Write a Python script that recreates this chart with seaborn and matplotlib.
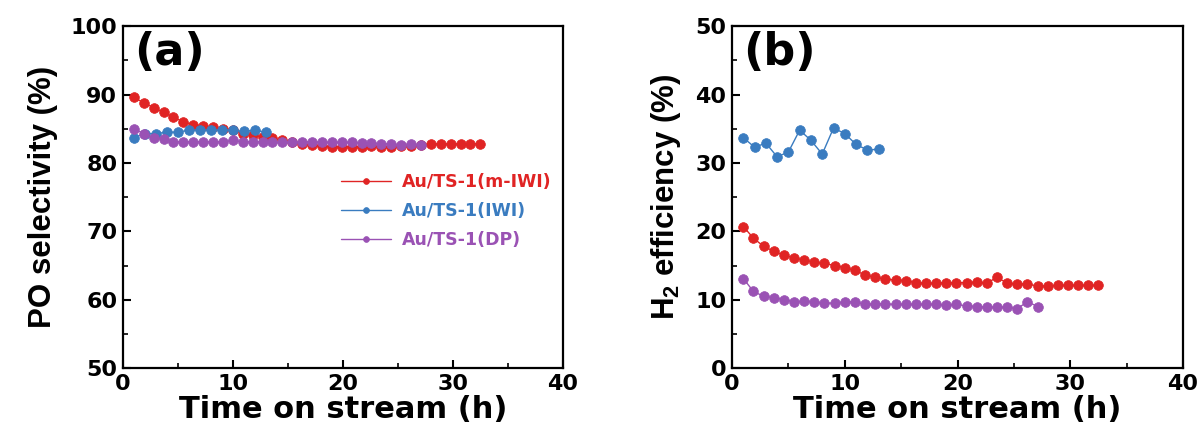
import numpy as np
import pandas as pd
import matplotlib
matplotlib.use("Agg")
import matplotlib.pyplot as plt
import seaborn as sns
from matplotlib.ticker import MultipleLocator

# ---------------- data ----------------
x_mIWI = [1 + 0.9 * i for i in range(36)]
x_IWI = list(range(1, 14))
x_DP = [1 + 0.9 * i for i in range(30)]

po_mIWI = [89.6, 88.8, 88.1, 87.4, 86.7, 86.0, 85.6, 85.4, 85.2, 85.0, 84.8, 84.3,
           84.1, 83.8, 83.6, 83.3, 83.0, 82.8, 82.6, 82.5, 82.4, 82.4, 82.4, 82.4,
           82.5, 82.4, 82.4, 82.5, 82.5, 82.6, 82.8, 82.8, 82.8, 82.8, 82.8, 82.8]
po_IWI = [83.7, 84.3, 84.3, 84.5, 84.5, 84.8, 84.8, 84.8, 84.8, 84.8, 84.6, 84.8, 84.5]
po_DP = [85.0, 84.3, 83.6, 83.5, 83.1, 83.1, 83.1, 83.1, 83.1, 83.1, 83.3, 83.1,
         83.1, 83.1, 83.0, 83.0, 83.1, 83.1, 83.1, 83.0, 83.0, 83.0, 83.0, 82.9,
         82.9, 82.8, 82.8, 82.6, 82.8, 82.6]

h2_mIWI = [20.7, 19.0, 17.8, 17.1, 16.5, 16.1, 15.8, 15.5, 15.3, 15.0, 14.7, 14.3,
           13.6, 13.3, 13.0, 12.9, 12.8, 12.5, 12.4, 12.4, 12.5, 12.5, 12.5, 12.6,
           12.4, 13.3, 12.4, 12.3, 12.3, 12.0, 12.0, 12.1, 12.1, 12.1, 12.1, 12.1]
h2_IWI = [33.7, 32.3, 32.9, 30.9, 31.6, 34.8, 33.3, 31.3, 35.1, 34.3, 32.7, 31.9, 32.0]
h2_DP = [13.1, 11.2, 10.5, 10.3, 10.0, 9.7, 9.8, 9.7, 9.5, 9.5, 9.7, 9.7,
         9.3, 9.4, 9.4, 9.3, 9.3, 9.3, 9.3, 9.3, 9.2, 9.3, 9.1, 9.0,
         8.9, 8.9, 8.9, 8.7, 9.7, 9.0]

labels = ["Au/TS-1(m-IWI)", "Au/TS-1(IWI)", "Au/TS-1(DP)"]
colors = ["#e02424", "#3a7cc0", "#9a52b4"]

# ---------------- style ----------------
sns.set_style("ticks")
plt.rcParams["font.family"] = ["DejaVu Sans"]
plt.rcParams["font.weight"] = "bold"
plt.rcParams["text.color"] = "black"
plt.rcParams["axes.labelcolor"] = "black"
plt.rcParams["xtick.color"] = "black"
plt.rcParams["ytick.color"] = "black"
plt.rcParams["mathtext.fontset"] = "custom"
plt.rcParams["mathtext.rm"] = "Liberation Sans:bold"
plt.rcParams["mathtext.it"] = "Liberation Sans:bold"
plt.rcParams["mathtext.bf"] = "Liberation Sans:bold"

fig = plt.figure(figsize=(12.04, 4.44), dpi=100)
ax_a = fig.add_axes([0.102, 0.171, 0.3655, 0.770])
ax_b = fig.add_axes([0.608, 0.171, 0.3746, 0.770])


def draw(ax, xs, ys):
    for x, y, lab, c in zip(xs, ys, labels, colors):
        df = pd.DataFrame({"x": x, "y": y})
        sns.lineplot(data=df, x="x", y="y", ax=ax, color=c, marker="o",
                     markersize=7, markeredgecolor=c, markeredgewidth=0.5,
                     linewidth=1.0, label=lab, legend=False)


draw(ax_a, [x_mIWI, x_IWI, x_DP], [po_mIWI, po_IWI, po_DP])
draw(ax_b, [x_mIWI, x_IWI, x_DP], [h2_mIWI, h2_IWI, h2_DP])

for ax, (ylo, yhi), ymaj, ymin, ylab, tag in [
    (ax_a, (50, 100), 10, 5, "PO selectivity (%)", "(a)"),
    (ax_b, (0, 50), 10, 5, r"H$_\mathregular{2}$ efficiency (%)", "(b)"),
]:
    ax.set_xlim(0, 40)
    ax.set_ylim(ylo, yhi)
    ax.xaxis.set_major_locator(MultipleLocator(10))
    ax.xaxis.set_minor_locator(MultipleLocator(5))
    ax.yaxis.set_major_locator(MultipleLocator(ymaj))
    ax.yaxis.set_minor_locator(MultipleLocator(ymin))
    ax.tick_params(which="major", direction="in", length=6, width=1.5,
                   labelsize=16, pad=4)
    ax.tick_params(which="minor", direction="in", length=3.5, width=1.2)
    for lbl in ax.get_xticklabels() + ax.get_yticklabels():
        lbl.set_fontweight("bold")
    for sp in ax.spines.values():
        sp.set_visible(True)
        sp.set_linewidth(1.6)
        sp.set_color("black")
    ax.set_xlabel("Time on stream (h)", fontsize=22, fontweight="bold", labelpad=1)
    ax.set_ylabel(ylab, fontsize=22.5, fontweight="bold", labelpad=9,
                  family="Liberation Sans")
    ax.text(0.025, 0.985, tag, transform=ax.transAxes, fontsize=32,
            fontweight="bold", va="top", ha="left")

leg = ax_a.legend(loc="upper left", bbox_to_anchor=(0.46, 0.615), frameon=False,
                  handlelength=2.9, markerscale=0.6,
                  labelspacing=0.62, handletextpad=0.6, labelcolor="linecolor",
                  prop={"weight": "bold", "size": 12.5})

fig.savefig("out.png", dpi=100)
